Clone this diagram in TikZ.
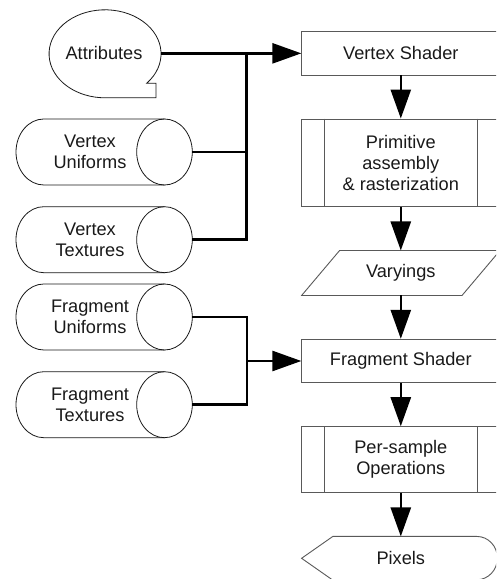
\documentclass[tikz,border=0pt]{standalone}
\usepackage{fontspec}
\setmainfont{Liberation Sans}
\usetikzlibrary{arrows.meta}
\newcommand\lblfont{\fontsize{18.2pt}{20.7pt}\selectfont}
\tikzset{
  shp/.style={draw=black!90, line width=0.8pt},
  bxl/.style={draw=black!65, line width=0.9pt},
  txt/.style={align=center, text=black!90, font=\lblfont, inner sep=0pt},
  box/.style={bxl, minimum width=198pt, inner sep=0pt, align=center, text=black!90, font=\lblfont},
  ghost/.style={minimum width=198pt, inner sep=0pt, align=center, text=black!90, font=\lblfont},
  wire/.style={draw=black, line width=2.4pt},
  flow/.style={draw=black, line width=2.6pt, -{Triangle[length=29pt,width=20pt]}},
}
\newcommand\mycyl[3]{%
  \draw[shp] (164.5,{#2+33}) -- (43.8,{#2+33}) arc[start angle=90,end angle=270,x radius=27.8pt,y radius=33pt] -- (164.5,{#2-33});
  \draw[shp] (164.5,#2) ellipse[x radius=27.8pt,y radius=33pt];
  \node[txt] (#1) at (90,#2) {#3};
  \coordinate (#1-e) at (192.3,#2);
}
\begin{document}
\begin{tikzpicture}[x=1pt,y=1pt]
\useasboundingbox (0,0) rectangle (496,579);
\clip (0,0) rectangle (496,579);

% Attributes (tape-like shape)
\draw[shp] (146.6,495.7) arc[start angle=-42.1,end angle=270,x radius=56pt,y radius=44pt]
  -- (156,481.2) -- (156,495.7) -- cycle;
\node[txt] (attr) at (104,525.7) {Attributes};
\coordinate (attr-e) at (161,525.65);

% cylinders
\mycyl{vu}{427}{Vertex\\Uniforms}
\mycyl{vt}{339.3}{Vertex\\Textures}
\mycyl{fu}{262}{Fragment\\Uniforms}
\mycyl{ft}{174.3}{Fragment\\Textures}

% right column
\node[box, minimum height=43.3pt] (vs) at (400.8,525.65) {Vertex Shader};
\node[box, minimum height=87.7pt] (pa) at (400.8,416.15) {Primitive\\assembly\\\& rasterization};
\draw[bxl] ([xshift=23.3pt]pa.north west) -- ([xshift=23.3pt]pa.south west);
\draw[bxl] ([xshift=-23.3pt]pa.north east) -- ([xshift=-23.3pt]pa.south east);

\node[txt, minimum width=160pt, minimum height=44.6pt] (var) at (400.8,306) {Varyings};
\draw[bxl] ([xshift=-19pt]var.south west) -- ([xshift=-19pt]var.south east)
  -- ([xshift=19pt]var.north east) -- ([xshift=19pt]var.north west) -- cycle;

\node[box, minimum height=43.4pt] (fs) at (400.8,218) {Fragment Shader};
\node[box, minimum height=65.6pt] (ps) at (400.8,119.5) {Per-sample\\Operations};
\draw[bxl] ([xshift=23.3pt]ps.north west) -- ([xshift=23.3pt]ps.south west);
\draw[bxl] ([xshift=-23.3pt]ps.north east) -- ([xshift=-23.3pt]ps.south east);

\node[ghost, minimum height=43.3pt] (px) at (400.8,20.7) {Pixels};
\draw[bxl] (px.west) -- ([xshift=31.2pt]px.north west) -- ([xshift=-23.1pt]px.north east)
  arc[start angle=90,end angle=-90,x radius=20.5pt,y radius=21.65pt]
  -- ([xshift=31.2pt]px.south west) -- cycle;

% connectors
\coordinate (vj) at (246.7,525.65);
\coordinate (fj) at (246.7,218);
\draw[flow] (attr-e) -- (vs.west);
\draw[wire, line width=2.7pt] (vj) |- (vt-e);
\draw[wire] (vu-e) -- (vu-e -| vj);
\draw[wire] (fu-e) -| (fj) |- (ft-e);
\draw[flow] (fj) -- (fs.west);

\draw[flow] (vs.south) -- (pa.north);
\draw[flow] (pa.south) -- (var.north);
\draw[flow] (var.south) -- (fs.north);
\draw[flow] (fs.south) -- (ps.north);
\draw[flow] (ps.south) -- (px.north);
\end{tikzpicture}
\end{document}
